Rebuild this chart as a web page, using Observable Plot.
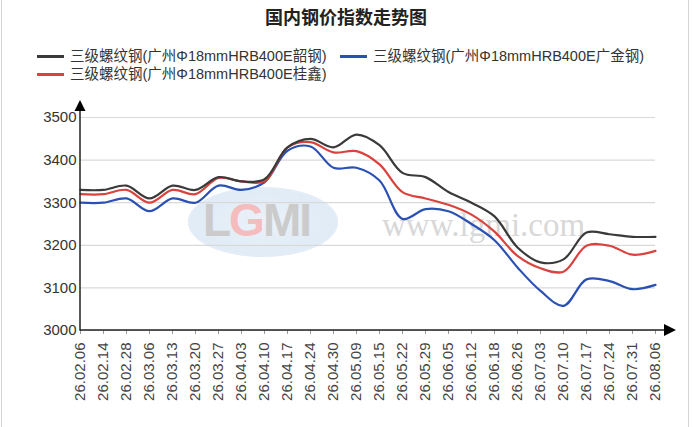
<!DOCTYPE html>
<html>
<head>
<meta charset="utf-8">
<script src="https://cdn.jsdelivr.net/npm/d3@7"></script>
<script src="https://cdn.jsdelivr.net/npm/@observablehq/plot@0.6"></script>
<style>
  html, body { margin: 0; padding: 0; background: #fff; }
  #wrap { position: relative; width: 692px; height: 427px; background: #fff; overflow: hidden;
          font-family: "Liberation Sans", "Noto Sans CJK SC", sans-serif; color: #333; }
  #wrap .border { position: absolute; top: 0; bottom: 0; width: 1px; background: #d4d4d4; }
  #title { position: absolute; top: 8px; left: 0; width: 692px; text-align: center;
           font-size: 18px; line-height: 20px; font-weight: bold; color: #222; }
  .item { position: absolute; display: flex; align-items: center; font-size: 14.5px; line-height: 16px; color: #333; white-space: nowrap; }
  .sw { width: 27px; height: 3px; margin-right: 6px; }
  #chart { position: absolute; left: 0; top: 88px; z-index: 2; }
  .wm { position: absolute; z-index: 1; }
</style>
</head>
<body>
<div id="wrap">
  <div class="border" style="left:1px"></div>
  <div class="border" style="left:688px"></div>
  <div id="title"></div>
  <div id="legend"></div>
  <div class="wm" style="left:188px;top:187px;width:150px;height:70px;border-radius:50%;background:radial-gradient(ellipse at center,#e2ecf7 0%,#d3e3f3 70%,#c8daef 100%);opacity:0.7;box-shadow:0 0 0 2px #d9e6f4 inset;"></div>
  <div class="wm" style="left:203px;top:197px;font-family:'Liberation Sans',sans-serif;font-weight:bold;font-size:46px;line-height:46px;letter-spacing:-2px;color:#cbcbcb;"><span>L</span><span style="color:#f4bcbc">G</span><span>M</span><span>I</span></div>
  <div class="wm" style="left:382px;top:209px;font-family:'Liberation Serif',serif;font-size:33px;line-height:33px;color:#d8d8d8;">www.lgmi.com</div>
  <div id="chart"></div>
</div>
<script>
const title = "国内钢价指数走势图";
const seriesNames = [
  "三级螺纹钢(广州Φ18mmHRB400E韶钢)",
  "三级螺纹钢(广州Φ18mmHRB400E广金钢)",
  "三级螺纹钢(广州Φ18mmHRB400E桂鑫)"
];
const seriesColors = ["#3a3a3a", "#2b50b3", "#d9423d"];

const labels = ["26.02.06","26.02.14","26.02.28","26.03.06","26.03.13","26.03.20","26.03.27","26.04.03","26.04.10","26.04.17","26.04.24","26.04.30","26.05.09","26.05.15","26.05.22","26.05.29","26.06.05","26.06.12","26.06.18","26.06.26","26.07.03","26.07.10","26.07.17","26.07.24","26.07.31","26.08.06"];

const shaogang = [3330,3330,3340,3310,3340,3330,3360,3350,3355,3430,3450,3430,3460,3435,3370,3360,3325,3300,3268,3195,3160,3167,3230,3226,3220,3220];
const guangjin = [3300,3300,3310,3280,3310,3300,3340,3330,3348,3422,3432,3382,3382,3352,3262,3285,3280,3250,3212,3148,3093,3058,3120,3116,3097,3107];
const guixin   = [3320,3320,3330,3300,3330,3320,3358,3350,3350,3430,3442,3418,3421,3390,3325,3310,3295,3272,3232,3175,3146,3138,3199,3199,3178,3187];

const yTicks = [3000, 3100, 3200, 3300, 3400, 3500];

document.getElementById("title").textContent = title;

// legend
const legendPos = [
  {i: 0, left: 37, top: 48},
  {i: 1, left: 340, top: 48},
  {i: 2, left: 37, top: 66}
];
const legend = document.getElementById("legend");
for (const p of legendPos) {
  const el = document.createElement("div");
  el.className = "item";
  el.style.left = p.left + "px";
  el.style.top = p.top + "px";
  const sw = document.createElement("span");
  sw.className = "sw";
  sw.style.background = seriesColors[p.i];
  const tx = document.createElement("span");
  tx.textContent = seriesNames[p.i];
  el.appendChild(sw); el.appendChild(tx);
  legend.appendChild(el);
}

// long-form rows, drawn in order blue, red, black
const order = [1, 2, 0];
const valuesBySeries = [shaogang, guangjin, guixin];
const rows = order.flatMap(s => labels.map((d, i) => ({date: d, value: valuesBySeries[s][i], series: seriesNames[s]})));

function axesMark(index, scales, values, dimensions) {
  const {width, height, marginLeft, marginRight, marginTop, marginBottom} = dimensions;
  const g = d3.create("svg:g");
  const x0 = marginLeft, y0 = height - marginBottom;
  const xTip = width - marginRight + 21;
  const yTip = marginTop - 17;
  g.append("line").attr("x1", x0).attr("x2", xTip - 10).attr("y1", y0).attr("y2", y0)
    .attr("stroke", "#222").attr("stroke-width", 1.5);
  g.append("line").attr("x1", x0).attr("x2", x0).attr("y1", y0 + 0.75).attr("y2", yTip + 9)
    .attr("stroke", "#222").attr("stroke-width", 1.5);
  g.append("path").attr("d", `M${xTip},${y0}L${xTip - 12},${y0 - 6}L${xTip - 12},${y0 + 6}Z`).attr("fill", "#000");
  g.append("path").attr("d", `M${x0},${yTip}L${x0 - 5.5},${yTip + 11}L${x0 + 5.5},${yTip + 11}Z`).attr("fill", "#000");
  return g.node();
}

const plot = Plot.plot({
  width: 692,
  height: 339,
  marginLeft: 80,
  marginRight: 37,
  marginTop: 29,
  marginBottom: 97,
  style: {background: "transparent", fontFamily: "'Liberation Sans', 'Noto Sans CJK SC', sans-serif", overflow: "visible"},
  x: {type: "point", domain: labels, padding: 0},
  y: {domain: [3000, 3500]},
  color: {domain: seriesNames, range: seriesColors},
  marks: [
    Plot.gridY(yTicks, {stroke: "#d9d9d9", strokeOpacity: 1, strokeWidth: 1.2}),
    Plot.axisY(yTicks, {tickSize: 0, tickPadding: 4, fontSize: 15, fill: "#333", label: null, tickFormat: d => String(d)}),
    Plot.axisX({tickRotate: -90, tickSize: 4, tickPadding: 8, fontSize: 15, stroke: "#999", fill: "#444", label: null}),
    Plot.line(rows, {x: "date", y: "value", z: "series", stroke: "series", curve: "catmull-rom", strokeWidth: 2.2}),
    axesMark
  ]
});
document.getElementById("chart").appendChild(plot);
</script>
</body>
</html>
